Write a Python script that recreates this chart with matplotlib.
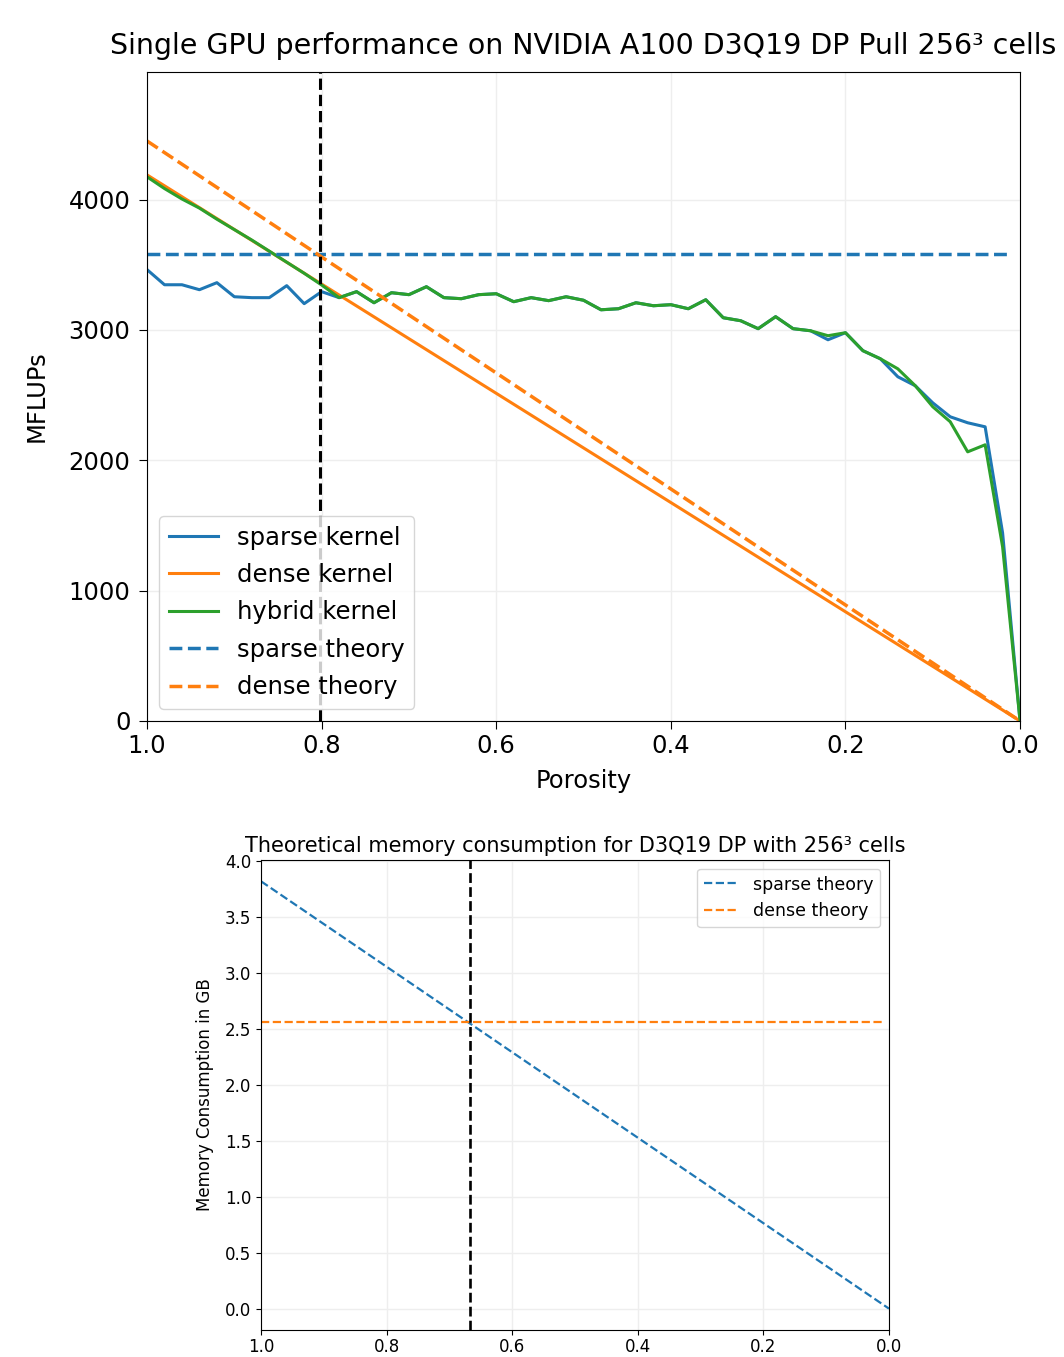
import numpy as np
import matplotlib
matplotlib.use("Agg")
import matplotlib.pyplot as plt

# porosity sampling of the kernel runs (every 0.02, 1.0 -> 0.0)
porosity = np.round(np.arange(1.0, -0.001, -0.02), 2)

sparse_kernel = [3463, 3347, 3347, 3309, 3363, 3255, 3248, 3248, 3340, 3202,
                 3294, 3248, 3294, 3209, 3286, 3271, 3332, 3248, 3240, 3271,
                 3278, 3217, 3248, 3225, 3255, 3228, 3155, 3163, 3209, 3186,
                 3194, 3163, 3232, 3094, 3071, 3010, 3102, 3010, 2994, 2925,
                 2979, 2841, 2779, 2641, 2572, 2441, 2334, 2288, 2257, 1443, 0]
hybrid_kernel = [4175, 4085, 4005, 3935, 3850, 3770, 3690, 3605, 3520, 3435,
                 3345, 3248, 3294, 3209, 3286, 3271, 3332, 3248, 3240, 3271,
                 3278, 3217, 3248, 3225, 3255, 3228, 3155, 3163, 3209, 3186,
                 3194, 3163, 3232, 3094, 3071, 3010, 3102, 3010, 2994, 2956,
                 2979, 2841, 2779, 2702, 2572, 2411, 2296, 2065, 2119, 1336, 0]

dense_kernel_x = [1.0, 0.0]
dense_kernel = [4190, 0]
dense_theory_x = [1.0, 0.0]
dense_theory = [4450, 0]
sparse_theory_x = [1.0, 0.01]
sparse_theory = [3585, 3585]
perf_crossover = 0.802

# memory consumption (GB)
mem_sparse_x = [1.0, 0.0]
mem_sparse = [3.82, 0.0]
mem_dense_x = [1.0, 0.01]
mem_dense = [2.56, 2.56]
mem_crossover = 0.667

fig = plt.figure(figsize=(10.64, 13.57), dpi=100)

# ---- performance plot ----
ax1 = fig.add_axes([0.1382, 0.4687, 0.8205, 0.4783])
fs = 17.5
ax1.plot(porosity, sparse_kernel, color='tab:blue', lw=2.2, label='sparse kernel')
ax1.plot(dense_kernel_x, dense_kernel, color='tab:orange', lw=2.2, label='dense kernel')
ax1.plot(porosity, hybrid_kernel, color='tab:green', lw=2.2, label='hybrid kernel')
ax1.plot(sparse_theory_x, sparse_theory, '--', color='tab:blue', lw=2.5, label='sparse theory')
ax1.plot(dense_theory_x, dense_theory, '--', color='tab:orange', lw=2.5, label='dense theory')
ax1.axvline(perf_crossover, color='black', ls='--', lw=2.2)
ax1.set_xlim(1.0, 0.0)
ax1.set_ylim(0, 4980)
ax1.set_xticks([1.0, 0.8, 0.6, 0.4, 0.2, 0.0])
ax1.set_yticks([0, 1000, 2000, 3000, 4000])
ax1.tick_params(labelsize=fs, length=6)
ax1.tick_params(axis='y', pad=6)
ax1.grid(True, color='#eeeeee', lw=1)
ax1.set_xlabel('Porosity', fontsize=fs, labelpad=8)
ax1.set_ylabel('MFLUPs', fontsize=fs, labelpad=14)
ax1.set_title('Single GPU performance on NVIDIA A100 D3Q19 DP Pull 256³ cells', fontsize=20.5, pad=13)
ax1.legend(loc='lower left', fontsize=fs, handlelength=2.0, labelspacing=0.55)

# ---- memory plot ----
ax2 = fig.add_axes([0.2453, 0.0199, 0.5902, 0.3464])
fs2 = 12
ax2.plot(mem_sparse_x, mem_sparse, '--', color='tab:blue', lw=1.6, label='sparse theory')
ax2.plot(mem_dense_x, mem_dense, '--', color='tab:orange', lw=1.6, label='dense theory')
ax2.axvline(mem_crossover, color='black', ls='--', lw=1.9)
ax2.set_xlim(1.0, 0.0)
ax2.set_xticks([1.0, 0.8, 0.6, 0.4, 0.2, 0.0])
ax2.tick_params(labelsize=fs2)
ax2.tick_params(axis='x', pad=2)
ax2.grid(True, color='#eeeeee', lw=1)
ax2.set_ylabel('Memory Consumption in GB', fontsize=fs2, labelpad=8)
ax2.set_title('Theoretical memory consumption for D3Q19 DP with 256³ cells', fontsize=15, pad=6)
ax2.legend(loc='upper right', fontsize=12.5)

fig.savefig('out.png', dpi=100)
